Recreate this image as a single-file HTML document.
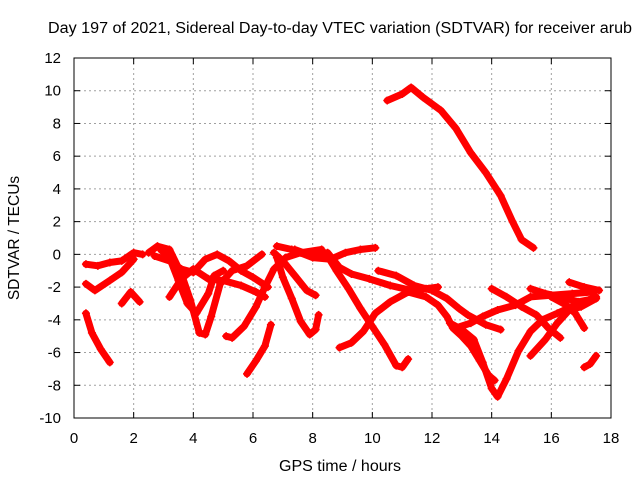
<!DOCTYPE html>
<html><head><meta charset="utf-8">
<style>
html,body{margin:0;padding:0;background:#fff;}
svg{display:block;font-family:"Liberation Sans",sans-serif;}
</style></head>
<body>
<svg id="chart" width="640" height="480" xmlns="http://www.w3.org/2000/svg">
<text x="48" y="33" font-size="15.5" textLength="584" lengthAdjust="spacingAndGlyphs" fill="#000">Day 197 of 2021, Sidereal Day-to-day VTEC variation (SDTVAR) for receiver arub</text>
<text x="340" y="471" font-size="15.5" textLength="122" lengthAdjust="spacingAndGlyphs" text-anchor="middle">GPS time / hours</text>
<text transform="translate(19,238) rotate(-90)" font-size="15.5" text-anchor="middle">SDTVAR / TECUs</text>
<g id="grid"></g>
<g id="ticks"></g>
<g id="series"></g>
<rect x="74" y="58" width="537" height="360" fill="none" stroke="#000" stroke-width="1"/>
</svg>
<script>
const xTicks=[0,2,4,6,8,10,12,14,16,18];
const yTicks=[-10,-8,-6,-4,-2,0,2,4,6,8,10,12];
const track1=[[0.4,-0.6],[0.8,-0.7],[1.2,-0.5],[1.6,-0.4],[2.0,0.1],[2.3,0]];
const track2=[[0.4,-1.8],[0.7,-2.2],[1.2,-1.6],[1.6,-1.1],[2.0,-0.3]];
const track3=[[0.4,-3.6],[0.6,-4.8],[0.9,-5.8],[1.2,-6.6]];
const track4=[[1.6,-3.0],[1.9,-2.3],[2.2,-2.9]];
const track5=[[2.5,0.1],[2.8,0.5],[3.2,0.3],[3.6,-1.2],[3.9,-2.8],[4.2,-4.8],[4.4,-4.9],[4.6,-3.8],[4.9,-1.8],[5.3,-1.0],[5.8,-0.7],[6.3,0]];
const track6=[[2.7,-0.1],[3.2,-0.4],[3.6,-0.9],[4.0,-1.1],[4.4,-0.3],[4.8,0],[5.2,-0.4],[5.6,-1.0],[6.0,-1.4],[6.5,-2.0]];
const track7=[[3.2,-2.6],[3.6,-1.5],[4.0,-0.9],[4.5,-1.5],[5.0,-1.6],[5.6,-1.9],[6.1,-2.3],[6.4,-2.6]];
const track8=[[2.9,0.3],[3.2,-0.2],[3.5,-1.6],[3.8,-3.0],[4.1,-3.6],[4.5,-2.4],[4.7,-1.3],[5.0,-1.0]];
const track9=[[5.1,-5.0],[5.3,-5.1],[5.7,-4.4],[6.1,-3.2],[6.4,-2.0],[6.7,-0.9],[7.1,-0.2],[7.6,0.1],[8.3,0.3]];
const track10=[[5.8,-7.3],[6.1,-6.5],[6.4,-5.6],[6.6,-4.3]];
const track11=[[6.8,-0.2],[7.0,-1.4],[7.3,-2.7],[7.6,-4.1],[7.9,-4.9],[8.1,-4.6],[8.2,-3.7]];
const track12=[[6.7,0.1],[7.0,-0.4],[7.4,-1.3],[7.8,-2.2],[8.1,-2.5]];
const track13=[[6.8,0.5],[7.3,0.3],[8.0,-0.2],[8.6,-0.3],[9.1,0.1],[9.6,0.3],[10.1,0.4]];
const track14=[[7.4,0.3],[8.0,-0.1],[8.5,0.1],[8.9,-0.8],[9.3,-1.2],[9.9,-1.5],[10.6,-1.9],[11.3,-2.2],[11.9,-2.1]];
const track15=[[8.9,-5.7],[9.3,-5.4],[9.7,-4.7],[10.1,-3.6],[10.6,-2.9],[11.2,-2.3],[11.8,-2.1],[12.2,-2.0]];
const track16=[[8.5,-0.1],[8.8,-1.0],[9.2,-2.1],[9.6,-3.3],[10.0,-4.4],[10.4,-5.5],[10.8,-6.8],[11.0,-6.9],[11.2,-6.4]];
const track17=[[10.2,-1.0],[10.8,-1.3],[11.4,-1.9],[12.0,-2.2],[12.5,-2.7],[12.9,-3.3],[13.2,-3.7],[13.8,-4.3],[14.3,-4.6]];
const track18=[[10.5,9.4],[11.0,9.8],[11.3,10.2],[11.7,9.6],[12.3,8.8],[12.8,7.7],[13.3,6.2],[13.8,5.0],[14.3,3.6],[14.7,2.0],[15.0,0.9],[15.4,0.4]];
const track19=[[11.2,-2.3],[11.8,-2.6],[12.2,-3.1],[12.5,-3.8],[12.7,-4.5],[13.0,-5.0],[13.3,-5.6],[13.6,-6.5],[13.9,-7.4],[14.1,-7.7]];
const track20=[[12.6,-4.2],[13.0,-4.6],[13.4,-5.2],[13.7,-6.6],[14.0,-8.2],[14.2,-8.7],[14.5,-7.6],[14.9,-5.9],[15.3,-4.7],[15.7,-4.0],[16.2,-3.6],[16.8,-3.1],[17.5,-2.6]];
const track21=[[12.8,-4.5],[13.3,-4.2],[13.7,-3.8],[14.2,-3.4],[14.8,-3.1],[15.3,-2.6],[16.0,-2.5],[16.7,-2.4],[17.4,-2.3]];
const track22=[[14.0,-2.1],[14.5,-2.6],[15.0,-3.2],[15.5,-3.7],[15.9,-4.5],[16.3,-5.1]];
const track23=[[15.3,-2.1],[15.8,-2.4],[16.3,-2.6],[16.9,-2.9],[17.5,-2.7]];
const track24=[[15.3,-6.2],[15.8,-5.2],[16.2,-4.2],[16.6,-3.4],[17.0,-3.2],[17.5,-2.7]];
const track25=[[16.6,-1.7],[17.1,-2.0],[17.6,-2.2]];
const track26=[[16.0,-2.6],[16.5,-3.1],[16.8,-3.6],[17.1,-4.5]];
const track27=[[17.1,-6.9],[17.3,-6.7],[17.5,-6.2]];
const tracks=[track1,track2,track3,track4,track5,track6,track7,track8,track9,track10,track11,track12,track13,track14,track15,track16,track17,track18,track19,track20,track21,track22,track23,track24,track25,track26,track27];

const X0=74,X1=611,Y0=418,Y1=58;
function xs(v){return X0+(v-0)/(18-0)*(X1-X0);}
function ys(v){return Y0-(v+10)/(22)*(Y0-Y1);}
const NS='http://www.w3.org/2000/svg';
const grid=document.getElementById('grid'),ticks=document.getElementById('ticks'),ser=document.getElementById('series');
function mk(t,a,p){const e=document.createElementNS(NS,t);for(const k in a)e.setAttribute(k,a[k]);p.appendChild(e);return e;}
xTicks.forEach(t=>{
  const x=xs(t);
  if(t>0&&t<18){const g=mk('line',{x1:x,x2:x,y1:Y1,y2:Y0,stroke:'#a0a0a0','stroke-dasharray':'2,3'},grid);
  
  }
  mk('line',{x1:x,x2:x,y1:Y0,y2:Y0-6,stroke:'#000'},ticks);
  mk('line',{x1:x,x2:x,y1:Y1,y2:Y1+6,stroke:'#000'},ticks);
  const l=mk('text',{x:x,y:443,'font-size':15,'text-anchor':'middle'},ticks);l.textContent=t;
  
  
});
yTicks.forEach(t=>{
  const y=ys(t);
  if(t>-10&&t<12){const g=mk('line',{x1:X0,x2:X1,y1:y,y2:y,stroke:'#a0a0a0','stroke-dasharray':'2,3'},grid);
  
  }
  mk('line',{x1:X0,x2:X0+6,y1:y,y2:y,stroke:'#000'},ticks);
  mk('line',{x1:X1,x2:X1-6,y1:y,y2:y,stroke:'#000'},ticks);
  const l=mk('text',{x:61,y:y+5,'font-size':15,'text-anchor':'end'},ticks);l.textContent=t;
  
  
});
tracks.forEach((tr,i)=>{
  const pts=tr.map(p=>xs(p[0]).toFixed(1)+','+ys(p[1]).toFixed(1)).join(' ');
  const pl=mk('polyline',{points:pts,fill:'none',stroke:'#ff0000','stroke-width':7,'stroke-linejoin':'round','stroke-linecap':'round'},ser);
  
  
  tr.forEach(p=>{
    const x=xs(p[0]),y=ys(p[1]);
    const m=mk('path',{d:`M${x-4},${y}H${x+4}M${x},${y-4}V${y+4}`,stroke:'#ff0000','stroke-width':1.5},ser);
    
    
  });
});
</script>
</body></html>
